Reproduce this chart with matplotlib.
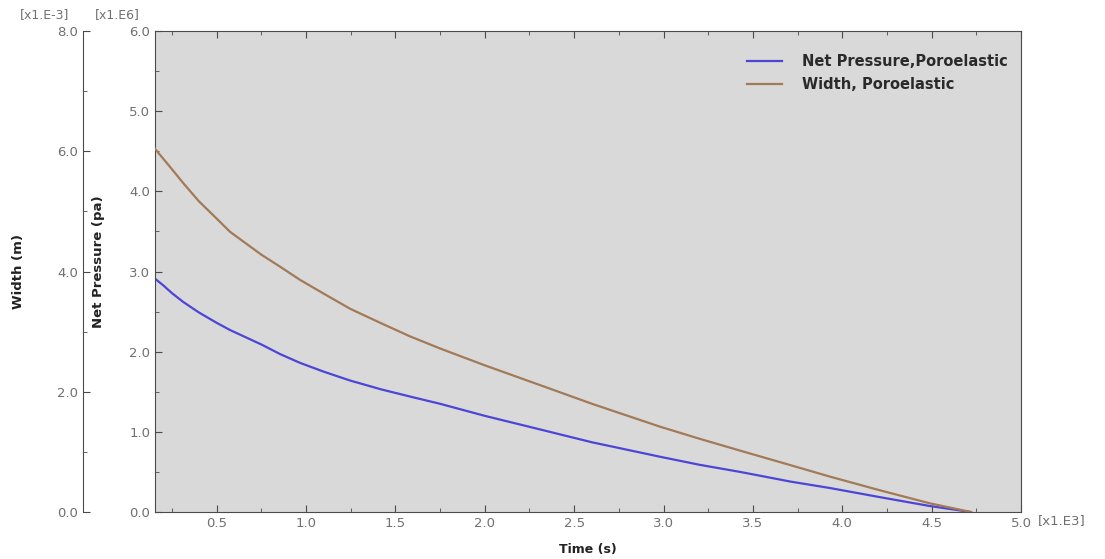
"""
Net pressure and fracture width vs time, poroelastic case.
"""
import matplotlib.pyplot as plt
from matplotlib.ticker import MultipleLocator, FormatStrFormatter

# time in units of 1e3 s
time = [0.155, 0.2, 0.25, 0.313, 0.4, 0.5, 0.575, 0.75, 0.855, 0.967,
        1.1, 1.247, 1.42, 1.583, 1.75, 2.0, 2.31, 2.6, 2.98, 3.2,
        3.43, 3.71, 3.93, 4.2, 4.49, 4.72]
# net pressure in units of 1e6 Pa
pressure = [2.91, 2.83, 2.73, 2.62, 2.49, 2.36, 2.27, 2.09, 1.97, 1.86,
            1.75, 1.64, 1.53, 1.44, 1.35, 1.20, 1.03, 0.87, 0.69, 0.59,
            0.50, 0.38, 0.30, 0.19, 0.075, 0.0]
# width in units of 1e-3 m
width = [6.04, 5.88, 5.70, 5.47, 5.17, 4.88, 4.66, 4.28, 4.08, 3.86,
         3.63, 3.38, 3.14, 2.92, 2.72, 2.44, 2.11, 1.80, 1.42, 1.22,
         1.02, 0.78, 0.59, 0.37, 0.145, 0.0]

BLUE = "#4d45d6"
BROWN = "#a27a58"
TICK_GREY = "#707070"
SPINE = "#4a4a4a"
LABEL = "#222222"

fig = plt.figure(figsize=(11.05, 5.59), dpi=100)
ax = fig.add_axes([0.1403, 0.084, 0.7837, 0.8605])
ax.set_facecolor("#d9d9d9")

l1, = ax.plot(time, pressure, color=BLUE, lw=1.6, label="Net Pressure,Poroelastic")
ax.set_xlim(0.155, 5.0)
ax.set_ylim(0, 6.0)
ax.xaxis.set_major_locator(MultipleLocator(0.5))
ax.xaxis.set_minor_locator(MultipleLocator(0.25))
ax.yaxis.set_major_locator(MultipleLocator(1.0))
ax.yaxis.set_minor_locator(MultipleLocator(0.5))
ax.xaxis.set_major_formatter(FormatStrFormatter("%.1f"))
ax.yaxis.set_major_formatter(FormatStrFormatter("%.1f"))
ax.tick_params(which="both", direction="in", top=True, right=True,
               colors=SPINE, labelcolor=TICK_GREY, labelsize=9.5)
ax.tick_params(which="major", length=5)
ax.tick_params(which="minor", length=3)
for s in ax.spines.values():
    s.set_color(SPINE)

ax.set_xlabel("Time (s)", fontsize=9, fontweight="bold", color=LABEL)
ax.xaxis.set_label_coords(0.5, -0.064)
ax.set_ylabel("Net Pressure (pa)", fontsize=9.5, fontweight="bold", color=LABEL)
ax.yaxis.set_label_coords(-0.058, 0.52)

# width axis on a separate left spine
ax2 = ax.twinx()
l2, = ax2.plot(time, width, color=BROWN, lw=1.6, label="Width, Poroelastic")
ax2.set_ylim(0, 8.0)
ax2.yaxis.set_ticks_position("left")
ax2.yaxis.set_label_position("left")
ax2.spines["left"].set_position(("axes", -0.0831))
ax2.spines["left"].set_visible(True)
ax2.spines["left"].set_color(SPINE)
for k in ("right", "top", "bottom"):
    ax2.spines[k].set_visible(False)
ax2.yaxis.set_major_locator(MultipleLocator(2.0))
ax2.yaxis.set_minor_locator(MultipleLocator(1.0))
ax2.yaxis.set_major_formatter(FormatStrFormatter("%.1f"))
ax2.tick_params(which="both", direction="in", colors=SPINE,
                labelcolor=TICK_GREY, labelsize=9.5)
ax2.tick_params(which="major", length=5)
ax2.tick_params(which="minor", length=3)
ax2.set_ylabel("Width (m)", fontsize=9.5, fontweight="bold", color=LABEL)
ax2.yaxis.set_label_coords(-0.150, 0.5)

# multiplier annotations
fig.text(20 / 1105, 1 - 15 / 559, "[x1.E-3]", fontsize=9, color=TICK_GREY, va="center")
fig.text(95 / 1105, 1 - 15 / 559, "[x1.E6]", fontsize=9, color=TICK_GREY, va="center")
fig.text(1038 / 1105, 1 - 521 / 559, "[x1.E3]", fontsize=9.5, color=TICK_GREY, va="center")

leg = ax.legend([l1, l2], [l1.get_label(), l2.get_label()], loc="upper right",
                bbox_to_anchor=(1.0, 0.98), frameon=False,
                prop={"size": 10.5, "weight": "bold"}, handlelength=2.4,
                handletextpad=1.4, labelspacing=0.55)
for t in leg.get_texts():
    t.set_color("#2a2a2a")

fig.savefig("out.png", dpi=100)
